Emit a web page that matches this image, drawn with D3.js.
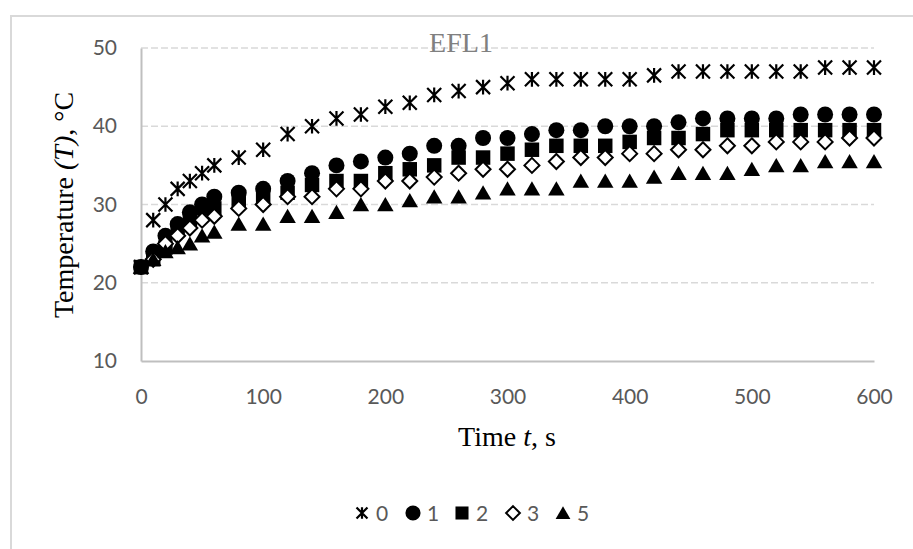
<!DOCTYPE html>
<html>
<head>
<meta charset="utf-8">
<script src="https://cdn.jsdelivr.net/npm/d3@7"></script>
<style>
  html, body { margin: 0; padding: 0; background: #fff; }
  svg { display: block; }
</style>
</head>
<body>
<svg id="chart" width="913" height="549"></svg>
<script>
// ---- data ----
const times = [0, 10, 20, 30, 40, 50, 60, 80, 100, 120, 140, 160, 180, 200, 220, 240, 260, 280, 300,
  320, 340, 360, 380, 400, 420, 440, 460, 480, 500, 520, 540, 560, 580, 600];
const seriesNames = ["0", "1", "2", "3", "5"];
const s0 = [22, 28, 30, 32, 33, 34, 35, 36, 37, 39, 40, 41, 41.5, 42.5, 43, 44, 44.5, 45, 45.5,
  46, 46, 46, 46, 46, 46.5, 47, 47, 47, 47, 47, 47, 47.5, 47.5, 47.5];
const s1 = [22, 24, 26, 27.5, 29, 30, 31, 31.5, 32, 33, 34, 35, 35.5, 36, 36.5, 37.5, 37.5, 38.5, 38.5,
  39, 39.5, 39.5, 40, 40, 40, 40.5, 41, 41, 41, 41, 41.5, 41.5, 41.5, 41.5];
const s2 = [22, 23, 24.5, 27, 28, 29.5, 29.5, 30.5, 31, 31.5, 32.5, 33, 33, 34, 34.5, 35, 36, 36, 36.5,
  37, 37.5, 37.5, 37.5, 38, 38.5, 38.5, 39, 39.5, 39.5, 39.5, 39.5, 39.5, 39.5, 39.5];
const s3 = [null, 23, 25, 26, 27, 28, 28.5, 29.5, 30, 31, 31, 32, 32, 33, 33, 33.5, 34, 34.5, 34.5,
  35, 35.5, 36, 36, 36.5, 36.5, 37, 37, 37.5, 37.5, 38, 38, 38, 38.5, 38.5];
const s5 = [22, 23, 24, 24.5, 25, 26, 26.5, 27.5, 27.5, 28.5, 28.5, 29, 30, 30, 30.5, 31, 31, 31.5, 32,
  32, 32, 33, 33, 33, 33.5, 34, 34, 34, 34.5, 35, 35, 35.5, 35.5, 35.5];
const xTicks = [0, 100, 200, 300, 400, 500, 600];
const yTicks = [10, 20, 30, 40, 50];
const chartTitle = "EFL1";

// ---- symbols ----
const asterisk = {
  draw(ctx, size) {
    const r = Math.sqrt(size) / 2;
    ctx.moveTo(-r, -r); ctx.lineTo(r, r);
    ctx.moveTo(-r, r); ctx.lineTo(r, -r);
    ctx.moveTo(0, -r * 1.05); ctx.lineTo(0, r * 1.05);
  }
};
const diamond = {
  draw(ctx, size) {
    const r = Math.sqrt(size) / 2;
    ctx.moveTo(0, -r); ctx.lineTo(r, 0); ctx.lineTo(0, r); ctx.lineTo(-r, 0); ctx.closePath();
  }
};
const triangle = {
  draw(ctx, size) {
    const r = Math.sqrt(size) / 2;
    ctx.moveTo(0, -r); ctx.lineTo(r * 1.1, r * 0.9); ctx.lineTo(-r * 1.1, r * 0.9); ctx.closePath();
  }
};
const styles = [
  { type: asterisk, size: 196, fill: "none", stroke: "#000", sw: 2.2 },
  { type: d3.symbolCircle, size: 201, fill: "#000", stroke: "none", sw: 0 },
  { type: d3.symbolSquare, size: 210, fill: "#000", stroke: "none", sw: 0 },
  { type: diamond, size: 225, fill: "#fff", stroke: "#000", sw: 2 },
  { type: triangle, size: 225, fill: "#000", stroke: "none", sw: 0 }
];
const allSeries = [s0, s1, s2, s3, s5];

// ---- layout ----
const svg = d3.select("#chart");
const x = d3.scaleLinear().domain([0, 600]).range([141, 874]);
const y = d3.scaleLinear().domain([10, 50]).range([361, 48]);

// outer border
svg.append("rect").attr("x", 11).attr("y", 16).attr("width", 960).attr("height", 600)
  .attr("fill", "none").attr("stroke", "#d9d9d9").attr("stroke-width", 2);

// gridlines
svg.append("g").selectAll("line").data(yTicks.filter(d => d > 10)).join("line")
  .attr("x1", x(0)).attr("x2", x(600))
  .attr("y1", d => y(d)).attr("y2", d => y(d))
  .attr("stroke", "#d9d9d9").attr("stroke-width", 1.5).attr("stroke-dasharray", "7,3");

const tickFont = "Lato, 'Open Sans', sans-serif";
const tickSize = "21px";

// y axis
const yAxis = svg.append("g").attr("transform", `translate(${x(0)},0)`)
  .call(d3.axisLeft(y).tickValues(yTicks).tickSize(0).tickPadding(24));
yAxis.select(".domain").attr("stroke", "#bfbfbf").attr("stroke-width", 2);
yAxis.selectAll("text").attr("fill", "#595959").style("font-family", tickFont).style("font-size", tickSize);

// x axis
const xAxis = svg.append("g").attr("transform", `translate(0,${y(10)})`)
  .call(d3.axisBottom(x).tickValues(xTicks).tickSize(0).tickPadding(28));
xAxis.select(".domain").attr("stroke", "#bfbfbf").attr("stroke-width", 2);
xAxis.selectAll("text").attr("fill", "#595959").style("font-family", tickFont).style("font-size", tickSize);

// series
allSeries.forEach((vals, i) => {
  const st = styles[i];
  const sym = d3.symbol().type(st.type).size(st.size);
  const pts = times.map((t, k) => ({ t, v: vals[k] })).filter(d => d.v != null);
  svg.append("g").selectAll("path").data(pts).join("path")
    .attr("d", sym)
    .attr("transform", d => `translate(${x(d.t)},${y(d.v)})`)
    .attr("fill", st.fill).attr("stroke", st.stroke).attr("stroke-width", st.sw);
});

// title
svg.append("text").attr("x", 461).attr("y", 52).attr("text-anchor", "middle")
  .style("font-family", "'Liberation Serif', 'Times New Roman', serif").style("font-size", "28px")
  .attr("fill", "#808080").text(chartTitle);

// y axis title
const yt = svg.append("text").attr("transform", "translate(73,205) rotate(-90)")
  .attr("text-anchor", "middle")
  .style("font-family", "'Liberation Serif', 'Times New Roman', serif").style("font-size", "28px")
  .attr("fill", "#000");
yt.append("tspan").text("Temperature ");
yt.append("tspan").style("font-style", "italic").text("(T)");
yt.append("tspan").text(", °C");

// x axis title
const xt = svg.append("text").attr("x", 507).attr("y", 446).attr("text-anchor", "middle")
  .style("font-family", "'Liberation Serif', 'Times New Roman', serif").style("font-size", "28px")
  .attr("fill", "#000");
xt.append("tspan").text("Time ");
xt.append("tspan").style("font-style", "italic").text("t");
xt.append("tspan").text(", s");

// legend
const legendX = [362, 413, 462, 513, 563];
const legendY = 513;
const legSizes = [120, 180, 170, 190, 180];
seriesNames.forEach((name, i) => {
  const st = styles[i];
  svg.append("path").attr("d", d3.symbol().type(st.type).size(legSizes[i])())
    .attr("transform", `translate(${legendX[i]},${legendY})`)
    .attr("fill", st.fill).attr("stroke", st.stroke).attr("stroke-width", st.sw);
  svg.append("text").attr("x", legendX[i] + 14).attr("y", legendY + 8)
    .style("font-family", tickFont).style("font-size", tickSize).attr("fill", "#595959").text(name);
});
</script>
</body>
</html>
